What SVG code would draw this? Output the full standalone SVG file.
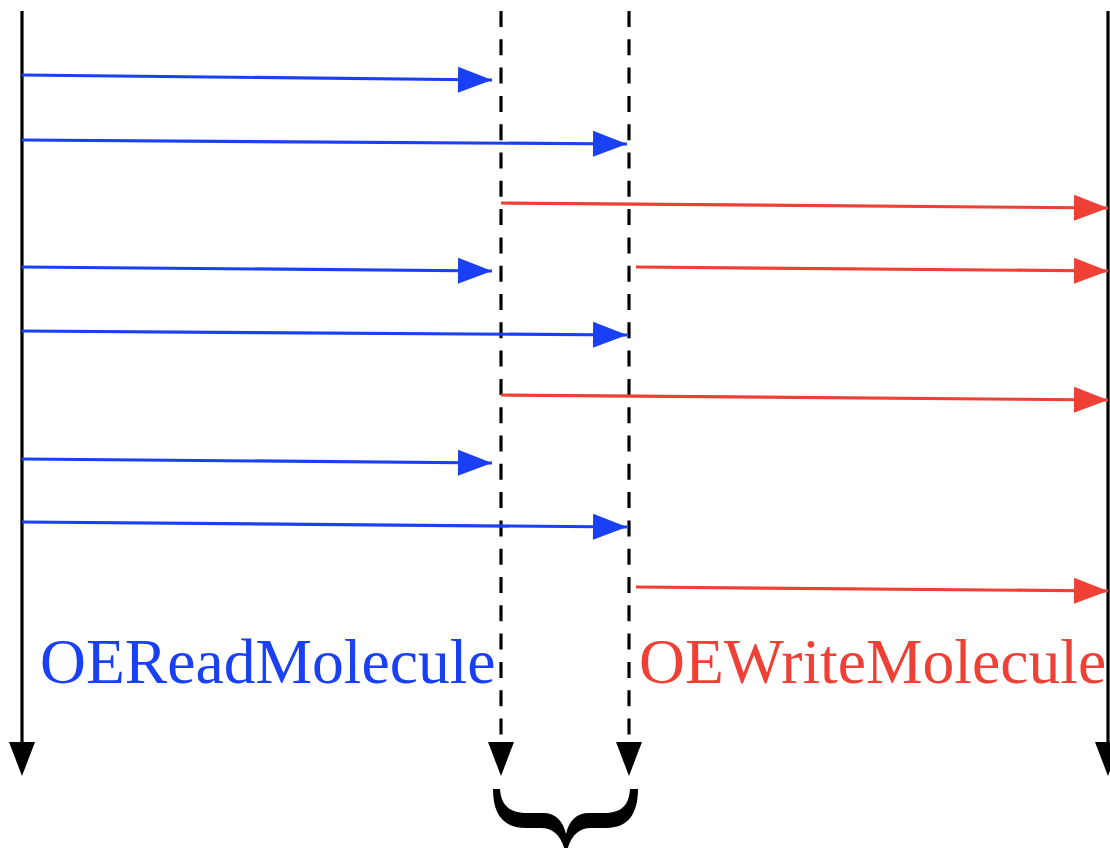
<svg xmlns="http://www.w3.org/2000/svg" xmlns:xlink="http://www.w3.org/1999/xlink" width="1110" height="848" viewBox="0 0 1110 848">
  <style>
    .axis { stroke: #000; stroke-width: 3.2; fill: none; }
    .dash { stroke: #000; stroke-width: 3.2; fill: none; stroke-dasharray: 16 12.3; }
    .read { stroke: #1a40f5; stroke-width: 3.2; fill: none; marker-end: url(#headBlue); }
    .write { stroke: #ee4034; stroke-width: 3.2; fill: none; marker-end: url(#headRed); }
    .label { font-family: "Liberation Serif", "Times New Roman", serif; font-size: 63.6px; }
  </style>
  <defs>
    <marker id="headBlue" markerUnits="userSpaceOnUse" markerWidth="34" markerHeight="26" refX="34" refY="13" orient="auto" overflow="visible">
      <path d="M0,0 L34,13 L0,26 Z" fill="#1a40f5"/>
    </marker>
    <marker id="headRed" markerUnits="userSpaceOnUse" markerWidth="34" markerHeight="26" refX="34" refY="13" orient="auto" overflow="visible">
      <path d="M0,0 L34,13 L0,26 Z" fill="#ee4034"/>
    </marker>
    <path id="headDown" d="M-13,0 L13,0 L0,34 Z" fill="#000"/>
  </defs>

  <!-- timelines -->
  <g id="timeline-read">
    <path class="axis" d="M22,11 V744"/>
    <use xlink:href="#headDown" x="22" y="742"/>
  </g>
  <g id="timeline-read-end">
    <path class="dash" d="M501,11 V740"/>
    <use xlink:href="#headDown" x="501" y="742"/>
  </g>
  <g id="timeline-write-start">
    <path class="dash" d="M629,11 V740"/>
    <use xlink:href="#headDown" x="629" y="742"/>
  </g>
  <g id="timeline-write">
    <path class="axis" d="M1108,11 V744"/>
    <use xlink:href="#headDown" x="1108" y="742"/>
  </g>

  <!-- messages -->
  <g id="connectors">
    <path class="read" d="M22,75 L492,80"/>
    <path class="read" d="M22,140 L627,144"/>
    <path class="write" d="M501,203 L1108,208"/>
    <path class="read" d="M22,267 L492,271"/>
    <path class="write" d="M636,267 L1108,271"/>
    <path class="read" d="M22,331 L627,335"/>
    <path class="write" d="M501,395 L1108,400"/>
    <path class="read" d="M22,459 L492,463"/>
    <path class="read" d="M22,522 L627,527"/>
    <path class="write" d="M636,587 L1108,591"/>
  </g>

  <!-- labels -->
  <g id="label-read">
    <text class="label" x="40" y="683" fill="#1a40f5">OEReadMolecule</text>
  </g>
  <g id="label-write">
    <text class="label" x="639" y="683" fill="#ee4034">OEWriteMolecule</text>
  </g>

  <!-- brace spanning the overlap interval -->
  <g id="brace">
    <path fill="#000" d="M493,789 L500,789 C501,805 509,813 528,813 L543,813 C556,813 563,821 566,834 C569,821 576,813 589,813 L603,813 C622,813 629,805 630,789 L638,789 C638,814 628,828 606,828 L591,828 C577,828 569,838 566,856 C563,838 555,828 541,828 L526,828 C503,828 493,814 493,789 Z"/>
  </g>
</svg>
